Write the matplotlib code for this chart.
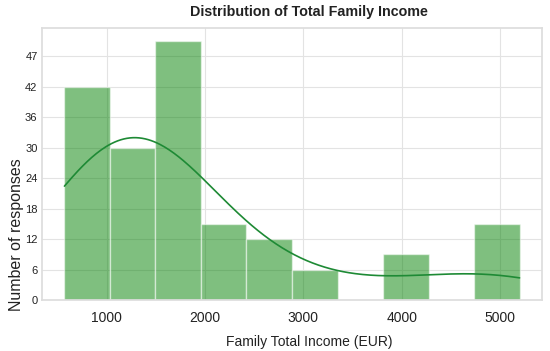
import numpy as np
import matplotlib
matplotlib.use("Agg")
import matplotlib.pyplot as plt
import seaborn as sns

# histogram
bin_edges = [569, 1032, 1495, 1958, 2421, 2884, 3347, 3810, 4273, 4736, 5199]
counts = [42, 30, 51, 15, 12, 6, 0, 9, 0, 15]
# estimated typical income inside each bin (used for the kde line)
bin_means = [750, 1150, 1500, 2000, 2500, 3000, 3500, 4000, 4500, 5000]
ytick_pos = [0, 6, 12, 18, 24, 30, 36, 42, 48]
ytick_labels = ["0", "6", "12", "18", "24", "30", "36", "42", "47"]
xticks = [1000, 2000, 3000, 4000, 5000]
bw_adjust = 1.6

sns.set_theme(style="whitegrid")
plt.rcParams["font.family"] = ["Liberation Sans", "DejaVu Sans"]

edges = np.array(bin_edges, dtype=float)
pts = np.array(bin_means, dtype=float)
w = np.array(counts, dtype=float)
width = edges[1] - edges[0]

# gaussian kde (scott bandwidth), scaled to counts like histplot(kde=True)
mean = np.sum(w * pts) / w.sum()
std = np.sqrt(np.sum(w * (pts - mean) ** 2) / w.sum())
bw = std * w.sum() ** (-1 / 5) * bw_adjust
xs = np.linspace(edges[0], edges[-1], 300)
dens = np.sum(w[:, None] * np.exp(-0.5 * ((xs[None, :] - pts[:, None]) / bw) ** 2), axis=0)
dens /= (w.sum() * bw * np.sqrt(2 * np.pi))
kde_y = dens * w.sum() * width

fig = plt.figure(figsize=(5.5, 3.51), dpi=100)
ax = fig.add_axes([41.7 / 550, 1 - 300 / 351, 500.6 / 550, 271.7 / 351])

ax.bar(edges[:-1], counts, width=np.diff(edges), align="edge",
       color="green", alpha=0.5, edgecolor="white", linewidth=1)
ax.plot(xs, kde_y, color="#1e8a35", linewidth=1.2)

pad = 0.05 * (edges[-1] - edges[0])
ax.set_xlim(edges[0] - pad, edges[-1] + pad)
ax.set_ylim(0, max(counts) * 1.05)
ax.set_xticks(xticks)
ax.set_xticklabels([str(x) for x in xticks], fontsize=10)
ax.set_yticks(ytick_pos)
ax.set_yticklabels(ytick_labels, fontsize=8)
ax.tick_params(axis="both", length=0, colors="#222222")
ax.tick_params(axis="x", pad=8)
ax.tick_params(axis="y", pad=3)
for s in ax.spines.values():
    s.set_color("#dddddd")
ax.grid(color="#e3e3e3", linewidth=0.8)

ax.set_xlabel("Family Total Income (EUR)", fontsize=10, color="#222222")
ax.xaxis.set_label_coords(0.535, -0.128)
ax.set_ylabel("Number of responses", fontsize=11.5, color="#222222")
ax.yaxis.set_label_coords(-0.036, 0.24)
ax.set_title("Distribution of Total Family Income", fontsize=10.3,
             fontweight="bold", color="#222222", x=0.534, pad=9)

fig.savefig("out.png", dpi=100)
